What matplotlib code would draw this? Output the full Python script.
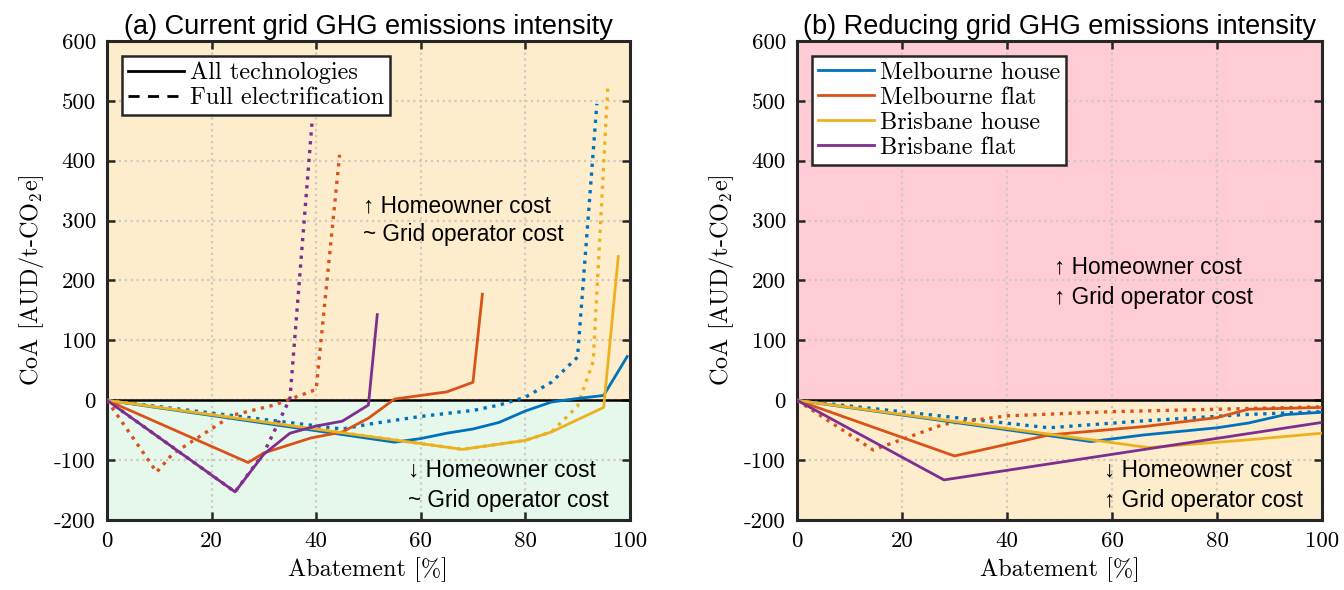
import matplotlib
matplotlib.use("Agg")
import matplotlib.pyplot as plt
from matplotlib.lines import Line2D

plt.rcParams["font.family"] = "cmr10"
plt.rcParams["mathtext.fontset"] = "cm"
plt.rcParams["axes.formatter.use_mathtext"] = False
plt.rcParams["axes.unicode_minus"] = False

C_BLUE, C_ORANGE, C_YELLOW, C_PURPLE = "#0072BD", "#D95319", "#EDB120", "#7E2F8E"
NAMES = ["Melbourne house", "Melbourne flat", "Brisbane house", "Brisbane flat"]
COLORS = [C_BLUE, C_ORANGE, C_YELLOW, C_PURPLE]

# (a) current grid intensity -- solid = all technologies
a_mh_x = [0, 55, 60, 65, 70, 75, 80, 85, 90, 95, 99.5]
a_mh_y = [0, -70, -64, -55, -48, -37, -18, -3, 3, 8, 73]
a_mf_x = [0, 27, 30, 39, 45, 50, 55, 65, 70, 71.8]
a_mf_y = [0, -104, -88, -63, -53, -30, 2, 14, 30, 177]
a_bh_x = [0, 68, 80, 85, 95, 97.8]
a_bh_y = [0, -82, -67, -53, -12, 240]
a_bf_x = [0, 24.5, 30, 35, 40, 45, 50, 51.7]
a_bf_y = [0, -153, -90, -55, -43, -35, -8, 143]
# (a) dotted = full electrification
a_mh_fe_x = [0, 45, 50, 60, 70, 75, 80, 85, 90, 93.7]
a_mh_fe_y = [0, -48, -40, -27, -17, -8, 5, 30, 72, 495]
a_mf_fe_x = [0, 9.5, 12.5, 24, 32, 40, 44.5]
a_mf_fe_y = [0, -120, -90, -25, -8, 18, 410]
a_bh_fe_x = [0, 68, 80, 85, 90, 93, 95.8]
a_bh_fe_y = [0, -82, -67, -53, -10, 65, 525]
a_bf_fe_x = [0, 24.5, 30, 35, 39.2]
a_bf_fe_y = [0, -153, -88, 3, 462]

# (b) reducing grid intensity
b_mh_x = [0, 56, 66, 80, 86, 93, 100]
b_mh_y = [0, -69, -58, -46, -38, -24, -20]
b_mf_x = [0, 30, 48, 66, 80, 86, 100]
b_mf_y = [0, -93, -58, -44, -29, -15, -12]
b_bh_x = [0, 67, 86, 100]
b_bh_y = [0, -79, -66, -55]
b_bf_x = [0, 28, 100]
b_bf_y = [0, -133, -37]
b_mh_fe_x = [0, 48, 65, 85, 100]
b_mh_fe_y = [0, -46, -35, -24, -19]
b_mf_fe_x = [0, 14.5, 28, 40, 60, 100]
b_mf_fe_y = [0, -83, -40, -26, -19, -11]

ORANGE_BG = "#FDEDCD"
GREEN_BG = "#E6F7EC"
PINK_BG = "#FFCCD5"
SANS = ["Liberation Sans", "DejaVu Sans"]


def style_axes(ax, top_bg, bot_bg, title):
    ax.axhspan(0, 600, color=top_bg, zorder=0, lw=0)
    ax.axhspan(-200, 0, color=bot_bg, zorder=0, lw=0)
    ax.set_axisbelow(True)
    ax.grid(True, ls=":", color="#cfcabd", lw=1.6)
    ax.axhline(0, color="k", lw=1.8, zorder=2)
    ax.set_xlim(0, 100)
    ax.set_ylim(-200, 600)
    ax.set_xticks(range(0, 101, 20))
    ax.set_yticks(range(-200, 601, 100))
    ax.tick_params(direction="in", top=True, right=True, length=6, width=1.8,
                   labelsize=16.5, pad=8, color="#262626")
    for s in ax.spines.values():
        s.set_linewidth(2.2)
        s.set_color("#262626")
    ax.set_xlabel("Abatement [%]", fontsize=17.5, labelpad=5)
    ax.set_ylabel(r"CoA [AUD/t-CO$_2$e]", fontsize=17.5, labelpad=6)
    ax.set_title(title, family=SANS, fontsize=19.5, pad=5)


fig = plt.figure(figsize=(13.44, 5.9), dpi=100)
ax1 = fig.add_axes([0.0796, 0.1186, 0.389, 0.812])
ax2 = fig.add_axes([0.593, 0.1186, 0.3906, 0.812])

style_axes(ax1, ORANGE_BG, GREEN_BG, "(a) Current grid GHG emissions intensity")
style_axes(ax2, PINK_BG, ORANGE_BG, "(b) Reducing grid GHG emissions intensity")

lw = 2.0
a_solid = [(a_mh_x, a_mh_y), (a_mf_x, a_mf_y), (a_bh_x, a_bh_y), (a_bf_x, a_bf_y)]
a_dot = [(a_mh_fe_x, a_mh_fe_y), (a_mf_fe_x, a_mf_fe_y), (a_bh_fe_x, a_bh_fe_y), (a_bf_fe_x, a_bf_fe_y)]
for (x, y), c in zip(a_dot, COLORS):
    ax1.plot(x, y, ls=":", color=c, lw=lw + 0.4, zorder=3)
for (x, y), c in zip(a_solid, COLORS):
    ax1.plot(x, y, color=c, lw=lw, zorder=4)

ax2.plot(b_mh_fe_x, b_mh_fe_y, ls=":", color=C_BLUE, lw=lw + 0.4, zorder=3)
ax2.plot(b_mf_fe_x, b_mf_fe_y, ls=":", color=C_ORANGE, lw=lw + 0.4, zorder=3)
b_solid = [(b_mh_x, b_mh_y), (b_mf_x, b_mf_y), (b_bh_x, b_bh_y), (b_bf_x, b_bf_y)]
for (x, y), c in zip(b_solid, COLORS):
    ax2.plot(x, y, color=c, lw=lw, zorder=4)

# legends
leg_kw = dict(loc="upper left", bbox_to_anchor=(0.0, 1.0), borderaxespad=0.6, fontsize=17.5,
              fancybox=False, framealpha=1, edgecolor="#262626", handlelength=2.3,
              handletextpad=0.25, borderpad=0.25, labelspacing=0.12)
h1 = [Line2D([], [], color="k", lw=2), Line2D([], [], color="k", lw=2, ls=(0, (4, 3)))]
leg1 = ax1.legend(h1, ["All technologies", "Full electrification"], **leg_kw)
leg1.get_frame().set_linewidth(1.8)
h2 = [Line2D([], [], color=c, lw=2) for c in COLORS]
leg2 = ax2.legend(h2, NAMES, **leg_kw)
leg2.get_frame().set_linewidth(1.8)

# annotations
ann = dict(family=SANS, fontsize=16.3, va="center", ha="left", zorder=6)
ax1.text(49.0, 325, "\u2191 Homeowner cost", **ann)
ax1.text(49.0, 277, "~ Grid operator cost", **ann)
ax1.text(57.5, -117, "\u2193 Homeowner cost", **ann)
ax1.text(57.5, -167, "~ Grid operator cost", **ann)
ax2.text(49.0, 222, "\u2191 Homeowner cost", **ann)
ax2.text(49.0, 172, "\u2191 Grid operator cost", **ann)
ax2.text(58.5, -117, "\u2193 Homeowner cost", **ann)
ax2.text(58.5, -167, "\u2191 Grid operator cost", **ann)

fig.savefig("out.png", dpi=100)
